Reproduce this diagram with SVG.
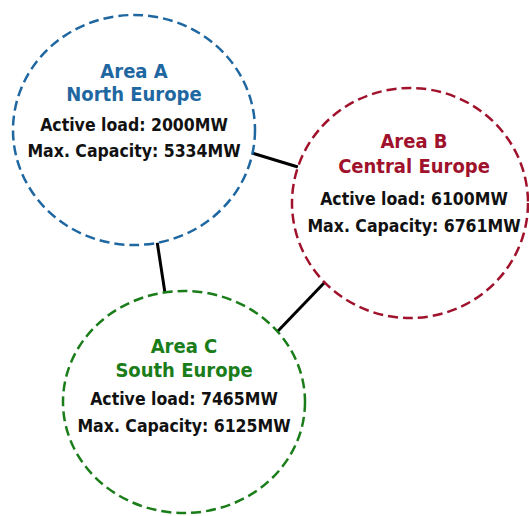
<svg xmlns="http://www.w3.org/2000/svg" width="529" height="516" viewBox="0 0 529 516">
<style>
.c{fill:#fff;stroke-width:2.5;stroke-dasharray:10 5}
.t{font-family:"DejaVu Sans Condensed","DejaVu Sans",sans-serif;font-weight:bold;text-anchor:middle}
.h{font-size:20px}
.b{font-size:17.5px;fill:#111}
.e line{stroke:#000;stroke-width:3}
</style>
<rect width="529" height="516" fill="#fff"/>
<g class="e" id="connectors">
<line x1="252" y1="153" x2="298" y2="167"/>
<line x1="157" y1="241" x2="165" y2="293"/>
<line x1="325" y1="282" x2="277" y2="332"/>
</g>
<g id="areaA">
<ellipse class="c" cx="134" cy="130" rx="121" ry="115" stroke="#1f67a1"/>
<text class="t h" x="134" y="78" fill="#1f67a1">Area A</text>
<text class="t h" x="134" y="101" fill="#1f67a1">North Europe</text>
<text class="t b" x="134" y="131">Active load: 2000MW</text>
<text class="t b" x="134" y="157">Max. Capacity: 5334MW</text>
</g>
<g id="areaB">
<ellipse class="c" cx="410" cy="203" rx="118" ry="115" stroke="#a0112b"/>
<text class="t h" x="414" y="148" fill="#a0112b">Area B</text>
<text class="t h" x="414" y="173" fill="#a0112b">Central Europe</text>
<text class="t b" x="414" y="205">Active load: 6100MW</text>
<text class="t b" x="414" y="232">Max. Capacity: 6761MW</text>
</g>
<g id="areaC">
<ellipse class="c" cx="184" cy="402" rx="121" ry="111" stroke="#1a7d1a"/>
<text class="t h" x="184" y="353" fill="#1a7d1a">Area C</text>
<text class="t h" x="184" y="377" fill="#1a7d1a">South Europe</text>
<text class="t b" x="184" y="405">Active load: 7465MW</text>
<text class="t b" x="184" y="432">Max. Capacity: 6125MW</text>
</g>
</svg>
